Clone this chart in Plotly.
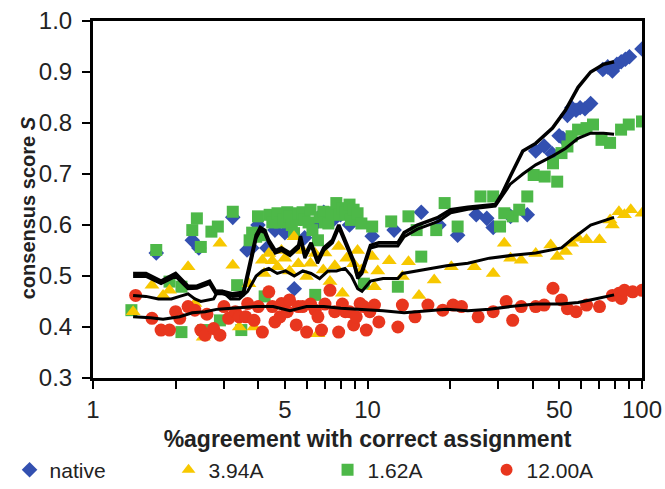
import plotly.graph_objects as go

# ---------------- data ----------------
native_x = [1.70, 2.30, 2.43, 3.23, 3.64, 3.79, 3.99, 4.3, 4.6, 5.0, 5.41, 5.9, 6.4, 6.93, 7.5, 7.98, 8.6,
            10.4, 12.5, 15.7, 18.2, 21.3, 24.9, 27.2, 28.7, 33.2, 38.2, 41, 44, 47, 49.9, 51.5,
            53.5, 55.5, 57.5, 59.5, 62, 65, 72, 75, 78, 81, 84, 87, 90, 100]
native_y = [0.545, 0.570, 0.555, 0.615, 0.551, 0.555, 0.600, 0.555, 0.590, 0.585, 0.475, 0.575, 0.600, 0.625, 0.610, 0.620, 0.600,
            0.578, 0.590, 0.625, 0.600, 0.580, 0.620, 0.613, 0.595, 0.617, 0.620, 0.745, 0.755, 0.740, 0.775, 0.770,
            0.815, 0.830, 0.825, 0.830, 0.828, 0.838, 0.905, 0.910, 0.902, 0.915, 0.920, 0.925, 0.930, 0.945]

y394_x = [1.40, 1.64, 1.80, 1.90, 2.22, 2.35, 2.52, 2.90, 3.23, 3.41, 3.70, 3.86, 4.14, 4.20, 4.37, 4.50, 4.70, 4.86,
          5.00, 5.20, 5.40, 5.60, 5.80, 6.00, 6.20, 6.45, 6.60, 6.90, 7.00, 7.30, 7.60, 7.85, 8.10, 8.40, 8.90,
          9.20, 9.50, 10.4, 10.6, 10.9, 12.0, 13.4, 14.1, 15.4, 17.5,
          20.2, 24.5, 28.7, 31.5, 33.2, 36.3, 41, 46.5, 49.1, 52.6, 55.4, 58.5, 62.8, 70, 76.5, 78, 82.4,
          86.3, 91, 100]
y394_y = [0.430, 0.482, 0.462, 0.472, 0.518, 0.446, 0.380, 0.564, 0.521, 0.400, 0.485, 0.400, 0.531, 0.505, 0.544, 0.530, 0.518, 0.550,
          0.535, 0.510, 0.577, 0.524, 0.550, 0.499, 0.525, 0.544, 0.387, 0.512, 0.545, 0.489, 0.520, 0.558, 0.466, 0.535, 0.524,
          0.550, 0.512, 0.538, 0.479, 0.510, 0.530, 0.499, 0.528, 0.462, 0.492,
          0.518, 0.518, 0.505, 0.564, 0.535, 0.531, 0.544, 0.561, 0.538, 0.548, 0.564, 0.574, 0.571, 0.571, 0.610, 0.600, 0.626,
          0.620, 0.630, 0.623]

y162_x = [1.38, 1.70, 1.90, 2.10, 2.10, 2.30, 2.39, 2.47, 2.52, 2.70, 2.85, 2.90, 3.23, 3.35, 3.47, 3.72, 3.80,
          3.93, 3.99, 4.10, 4.22, 4.40, 4.50, 4.70, 4.80, 4.94, 5.10, 5.20, 5.30, 5.40, 5.50, 5.60, 5.80, 5.90,
          6.10, 6.20, 6.30, 6.45, 6.60, 6.70, 6.90, 7.00, 7.20, 7.40,
          7.70, 7.90, 8.10, 8.30, 8.60, 8.70, 8.90, 9.20, 9.50, 9.70, 10.4, 12.2, 12.9, 14.1, 15.1, 15.7, 17.8, 19.1, 21.3,
          25.8, 28.7, 30.4, 31.5, 33.8, 35.7, 38.2, 40.3, 44.2, 47.4, 49.1, 50.9, 53.5, 55.4, 58.5, 62.8,
          66.3, 71.2, 76.5, 83.9, 89.5, 100]
y162_y = [0.433, 0.551, 0.489, 0.479, 0.390, 0.590, 0.613, 0.557, 0.394, 0.587, 0.597, 0.413, 0.626, 0.482, 0.394, 0.570, 0.585,
          0.577, 0.617, 0.580, 0.460, 0.620, 0.605, 0.623, 0.605, 0.610, 0.625, 0.617, 0.600, 0.584, 0.610, 0.623, 0.625, 0.610,
          0.605, 0.630, 0.590, 0.463, 0.570, 0.615, 0.626, 0.605, 0.603, 0.625,
          0.643, 0.620, 0.633, 0.625, 0.640, 0.610, 0.630, 0.623, 0.603, 0.485, 0.597, 0.607, 0.479, 0.617, 0.590, 0.538, 0.590, 0.643, 0.597,
          0.656, 0.656, 0.597, 0.623, 0.617, 0.630, 0.656, 0.698, 0.695, 0.721, 0.685, 0.741, 0.754, 0.774, 0.787, 0.790,
          0.797, 0.767, 0.761, 0.787, 0.797, 0.803]

y1200_x = [1.43, 1.64, 1.77, 1.90, 2.00, 2.07, 2.22, 2.35, 2.47, 2.56, 2.60, 2.75, 2.90, 3.00, 3.12, 3.30, 3.41, 3.60, 3.66,
           3.86, 4.00, 4.14, 4.37, 4.50, 4.60, 4.80, 4.86, 5.10, 5.20, 5.50, 5.60, 5.80, 6.00, 6.20, 6.45, 6.60,
           6.80, 7.00, 7.30, 7.60, 7.85, 8.10, 8.30, 8.60, 8.90, 9.10, 9.40, 9.70, 9.90, 10.2, 10.6, 11.0,
           12.9, 13.4, 14.9, 16.6, 18.8, 20.5, 22, 25.3, 28.7, 32, 33.8, 36.3, 41, 44, 47.4, 50.9, 53.5,
           57.5, 62.8, 70, 78, 82.4, 84, 86.3, 92.5, 100]
y1200_y = [0.462, 0.417, 0.394, 0.394, 0.430, 0.417, 0.440, 0.433, 0.394, 0.384, 0.425, 0.397, 0.384, 0.440, 0.417, 0.430, 0.420, 0.420, 0.446,
           0.413, 0.440, 0.390, 0.469, 0.440, 0.410, 0.420, 0.446, 0.430, 0.453, 0.404, 0.440, 0.440, 0.390, 0.445, 0.433, 0.420,
           0.394, 0.445, 0.472, 0.430, 0.390, 0.445, 0.430, 0.430, 0.404, 0.420, 0.446, 0.440, 0.394, 0.430, 0.443, 0.410,
           0.400, 0.443, 0.420, 0.443, 0.433, 0.443, 0.440, 0.420, 0.430, 0.450, 0.413, 0.440, 0.440, 0.443, 0.476, 0.453, 0.436,
           0.430, 0.443, 0.440, 0.462, 0.466, 0.456, 0.472, 0.469, 0.472]

# running-average lines
avg_native_x = [1.40, 1.56, 1.77, 2.00, 2.22, 2.39, 2.66, 2.80, 2.96, 3.23, 3.53, 3.72, 3.93, 4.07, 4.22, 4.37,
                4.61, 4.86, 5.22, 5.61, 5.70, 5.91, 6.23, 6.58, 6.93, 7.45, 7.86, 8.14, 8.43, 8.90, 9.21, 9.55,
                10.25, 11.0, 12.9, 13.6, 15.2, 18.1, 20.1, 23.2, 29.2, 30.8, 33.1, 36.8, 41.0, 47.2, 52.6, 58.5,
                65.0, 72.4, 79.1]
avg_native_y = [0.505, 0.505, 0.490, 0.505, 0.480, 0.480, 0.490, 0.470, 0.470, 0.465, 0.468, 0.520, 0.580, 0.595, 0.590, 0.570,
                0.550, 0.555, 0.545, 0.560, 0.578, 0.540, 0.565, 0.530, 0.555, 0.570, 0.600, 0.580, 0.560, 0.530, 0.500, 0.510,
                0.560, 0.565, 0.565, 0.585, 0.600, 0.615, 0.630, 0.635, 0.640, 0.660, 0.695, 0.745, 0.760, 0.790, 0.825, 0.870,
                0.900, 0.915, 0.920]

avg162_x = [1.40, 1.56, 1.77, 2.00, 2.22, 2.39, 2.66, 2.80, 2.96, 3.23, 3.53, 3.72, 3.93, 4.07, 4.22, 4.37,
            4.61, 4.86, 5.22, 5.61, 5.70, 5.91, 6.23, 6.58, 6.93, 7.45, 7.86, 8.14, 8.43, 8.90, 9.21, 9.55,
            10.25, 11.0, 12.9, 13.6, 15.2, 18.1, 20.1, 23.2, 29.2, 30.8, 33.1, 36.8, 41.0, 47.2, 52.6, 58.5,
            65.0, 72.4, 79.1]
avg162_y = [0.499, 0.499, 0.485, 0.499, 0.475, 0.476, 0.485, 0.465, 0.465, 0.460, 0.463, 0.514, 0.574, 0.589, 0.585, 0.565,
            0.545, 0.550, 0.540, 0.555, 0.573, 0.535, 0.560, 0.525, 0.550, 0.565, 0.595, 0.575, 0.555, 0.525, 0.495, 0.505,
            0.555, 0.559, 0.559, 0.577, 0.592, 0.607, 0.624, 0.631, 0.637, 0.655, 0.680, 0.700, 0.718, 0.735, 0.750, 0.770,
            0.780, 0.780, 0.778]

avg394_x = [1.40, 1.56, 1.73, 1.93, 2.07, 2.22, 2.35, 2.47, 2.75, 2.85, 2.96, 3.17, 3.41, 3.66, 3.93, 4.14,
            4.37, 4.69, 5.03, 5.41, 5.81, 6.23, 6.69, 7.18, 7.71, 8.28, 8.74, 9.21, 9.55, 10.25, 11.4, 12.9,
            13.4, 15.2, 19.4, 23.2, 27.8, 33.1, 41.0, 50.9, 56.4, 65.0, 79.1]
avg394_y = [0.462, 0.460, 0.455, 0.455, 0.460, 0.465, 0.455, 0.450, 0.455, 0.470, 0.470, 0.455, 0.455, 0.470, 0.500, 0.510,
            0.515, 0.505, 0.510, 0.500, 0.510, 0.505, 0.495, 0.510, 0.510, 0.515, 0.500, 0.475, 0.470, 0.490, 0.495, 0.495,
            0.505, 0.510, 0.520, 0.525, 0.535, 0.540, 0.545, 0.555, 0.575, 0.600, 0.615]

avg1200_x = [1.40, 1.62, 1.80, 2.07, 2.30, 2.56, 2.85, 3.41, 3.93, 4.53, 5.22, 6.00, 6.93, 7.99, 9.55, 11.4,
             13.6, 16.3, 19.4, 23.2, 27.8, 33.1, 41.0, 50.9, 58.5, 67.4, 79.1]
avg1200_y = [0.420, 0.418, 0.415, 0.420, 0.428, 0.430, 0.435, 0.437, 0.440, 0.440, 0.432, 0.440, 0.440, 0.437, 0.435, 0.432,
             0.428, 0.432, 0.435, 0.432, 0.435, 0.440, 0.445, 0.445, 0.448, 0.455, 0.463]

x_tickvals = [1, 2, 3, 4, 5, 6, 7, 8, 9, 10, 20, 30, 40, 50, 60, 70, 80, 90, 100]
x_ticktext = ["1", "", "", "", "5", "", "", "", "", "10", "", "", "", "50", "", "", "", "", "100"]

FONT = "Liberation Sans, Arial, Helvetica, sans-serif"
TXT = "#222222"

fig = go.Figure()

fig.add_trace(go.Scatter(x=native_x, y=native_y, mode="markers", name="native", legendrank=1,
                         marker=dict(symbol="diamond", size=12, color="#3350B0")))
fig.add_trace(go.Scatter(x=y162_x, y=y162_y, mode="markers", name="1.62A", legendrank=3,
                         marker=dict(symbol="square", size=12, color="#4DB848")))
fig.add_trace(go.Scatter(x=y394_x, y=y394_y, mode="markers", name="3.94A", legendrank=2,
                         marker=dict(symbol="triangle-up", size=13, color="#F7C800")))
fig.add_trace(go.Scatter(x=y1200_x, y=y1200_y, mode="markers", name="12.00A", legendrank=4,
                         marker=dict(symbol="circle", size=13, color="#E8361E")))

for lx, ly, w in [(avg1200_x, avg1200_y, 3), (avg394_x, avg394_y, 3),
                  (avg162_x, avg162_y, 3), (avg_native_x, avg_native_y, 3.5)]:
    fig.add_trace(go.Scatter(x=lx, y=ly, mode="lines", showlegend=False,
                             line=dict(color="black", width=w)))

fig.update_xaxes(type="log", range=[0, 2], tickvals=x_tickvals, ticktext=x_ticktext,
                 ticks="outside", ticklen=8, tickwidth=2, tickcolor="black",
                 showline=True, linewidth=3, linecolor="black", mirror=True,
                 showgrid=False, zeroline=False, ticklabelstandoff=0, automargin=False,
                 tickfont=dict(size=24, color=TXT),
                 title=dict(text="<b>%agreement with correct assignment</b>",
                            font=dict(size=23, color=TXT), standoff=10))
fig.update_yaxes(range=[0.3, 1.0], dtick=0.1, tick0=0.3, tickformat=".1f",
                 ticks="outside", ticklen=8, tickwidth=2, tickcolor="black",
                 showline=True, linewidth=3, linecolor="black", mirror=True,
                 showgrid=False, zeroline=False, ticklabelstandoff=5, automargin=False,
                 tickfont=dict(size=24, color=TXT))

fig.add_annotation(text="<b>consensus score <i>S</i></b>", xref="paper", yref="paper",
                   x=-0.118, y=0.476, textangle=-90, showarrow=False,
                   xanchor="center", yanchor="middle",
                   font=dict(size=20, color=TXT, family=FONT))

fig.update_layout(width=665, height=489,
                  margin=dict(l=93, r=23, t=21, b=111, autoexpand=False),
                  plot_bgcolor="white", paper_bgcolor="white",
                  font=dict(family=FONT, color=TXT),
                  legend=dict(orientation="h",
                              x=-0.152, y=-0.258, xanchor="left", yanchor="middle",
                              font=dict(size=21), entrywidth=114, entrywidthmode="pixels",
                              traceorder="normal", itemsizing="constant"),
                  showlegend=True)

fig.write_html("out.html", post_script="document.body.style.margin='0';",
               config={"displayModeBar": False})
